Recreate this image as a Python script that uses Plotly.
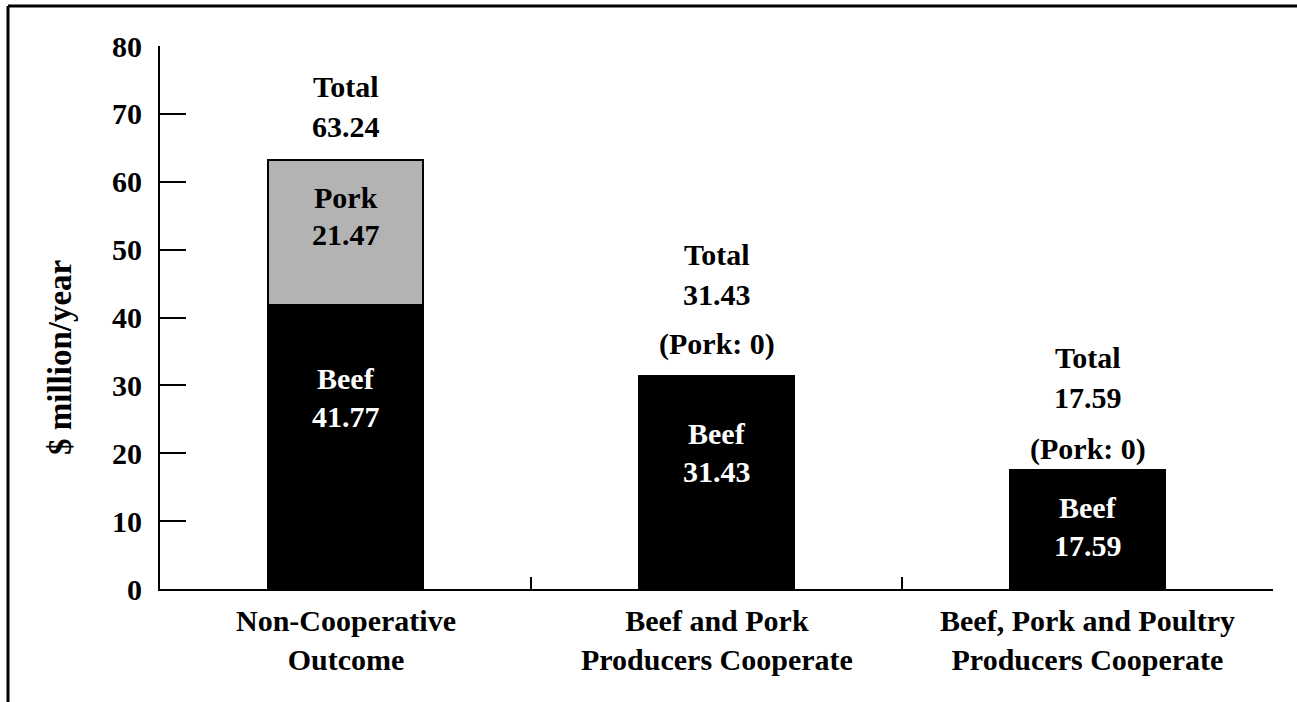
import plotly.graph_objects as go

# Data
categories = ["Non-Cooperative<br>Outcome",
              "Beef and Pork<br>Producers Cooperate",
              "Beef, Pork and Poultry<br>Producers Cooperate"]
cat_pos = [0.5, 1.5, 2.5]
beef = [41.77, 31.43, 17.59]
pork = [21.47, 0, 0]
totals = [63.24, 31.43, 17.59]
y_ticks = [0, 10, 20, 30, 40, 50, 60, 70, 80]
boundaries = [1, 2, 3]

FONT = "Liberation Serif"
FS = 30

W, H = 1297, 702
L, R, T, B = 160, 24, 46, 113
pw, ph = W - L - R, H - T - B


def px_to_val(py):
    # pixel y (from top) -> data value on the 0..80 axis
    return (H - B - py) / ph * 80


fig = go.Figure()
fig.add_trace(go.Bar(x=cat_pos, y=beef, width=0.42, name="Beef",
                     marker=dict(color="black", line=dict(color="black", width=1.5))))
fig.add_trace(go.Bar(x=cat_pos, y=pork, width=0.42, name="Pork",
                     marker=dict(color="#b3b3b3", line=dict(color="black", width=2))))

ann = []


def add(x, py, text, color="black"):
    ann.append(dict(x=x, y=px_to_val(py), xref="x", yref="y", text=text, showarrow=False,
                    font=dict(family=FONT, size=FS, color=color), xanchor="center", yanchor="middle"))


# bar 1
add(cat_pos[0], 86, "<b>Total</b>")
add(cat_pos[0], 126, f"<b>{totals[0]:.2f}</b>")
add(cat_pos[0], 197, "<b>Pork</b>")
add(cat_pos[0], 234, f"<b>{pork[0]:.2f}</b>")
add(cat_pos[0], 378, "<b>Beef</b>", "white")
add(cat_pos[0], 416, f"<b>{beef[0]:.2f}</b>", "white")
# bar 2
add(cat_pos[1], 254, "<b>Total</b>")
add(cat_pos[1], 294, f"<b>{totals[1]:.2f}</b>")
add(cat_pos[1], 344, f"<b>(Pork: {pork[1]:g})</b>")
add(cat_pos[1], 433, "<b>Beef</b>", "white")
add(cat_pos[1], 471, f"<b>{beef[1]:.2f}</b>", "white")
# bar 3
add(cat_pos[2], 357, "<b>Total</b>")
add(cat_pos[2], 397, f"<b>{totals[2]:.2f}</b>")
add(cat_pos[2], 449, f"<b>(Pork: {pork[2]:g})</b>")
add(cat_pos[2], 507, "<b>Beef</b>", "white")
add(cat_pos[2], 545, f"<b>{beef[2]:.2f}</b>", "white")

# category labels below the axis
for xp, c in zip(cat_pos, categories):
    ann.append(dict(x=xp, y=-(602 - (H - B)) / ph, xref="x", yref="paper",
                    text=f"<b>{c}</b>", showarrow=False,
                    font=dict(family=FONT, size=FS, color="black"),
                    xanchor="center", yanchor="top"))

# y axis title
ann.append(dict(x=(60 - L) / pw, y=(H - B - 358) / ph, xref="paper", yref="paper",
                text="<b>$ million/year</b>", textangle=-90, showarrow=False,
                font=dict(family=FONT, size=33, color="black"),
                xanchor="center", yanchor="middle"))

shapes = [
    # frame top
    dict(type="line", xref="paper", yref="paper",
         x0=(8 - L) / pw, x1=(W - L) / pw, y0=(H - B - 6) / ph, y1=(H - B - 6) / ph,
         line=dict(color="black", width=3)),
    # frame left
    dict(type="line", xref="paper", yref="paper",
         x0=(8 - L) / pw, x1=(8 - L) / pw, y0=(H - B - 6) / ph, y1=(H - B - H) / ph,
         line=dict(color="black", width=3)),
]

fig.update_layout(
    width=W, height=H,
    barmode="stack",
    showlegend=False,
    plot_bgcolor="white", paper_bgcolor="white",
    margin=dict(l=L, r=R, t=T, b=B, pad=0),
    font=dict(family=FONT, size=FS, color="black"),
    xaxis=dict(range=[0, 3], tickvals=boundaries, showticklabels=False,
               ticks="inside", ticklen=12, tickwidth=2, tickcolor="black",
               showline=True, linecolor="black", linewidth=2,
               showgrid=False, zeroline=False),
    yaxis=dict(range=[0, 80], tickvals=y_ticks, ticktext=[f"<b>{v}</b>" for v in y_ticks],
               ticks="inside", ticklen=26, tickwidth=2, tickcolor="black",
               showline=True, linecolor="black", linewidth=2, showgrid=False, zeroline=False,
               ticklabelstandoff=10,
               tickfont=dict(family=FONT, size=FS, color="black")),
    annotations=ann,
    shapes=shapes,
)

fig.write_html("out.html", config={"displayModeBar": False},
               post_script="document.body.style.margin='0';")
